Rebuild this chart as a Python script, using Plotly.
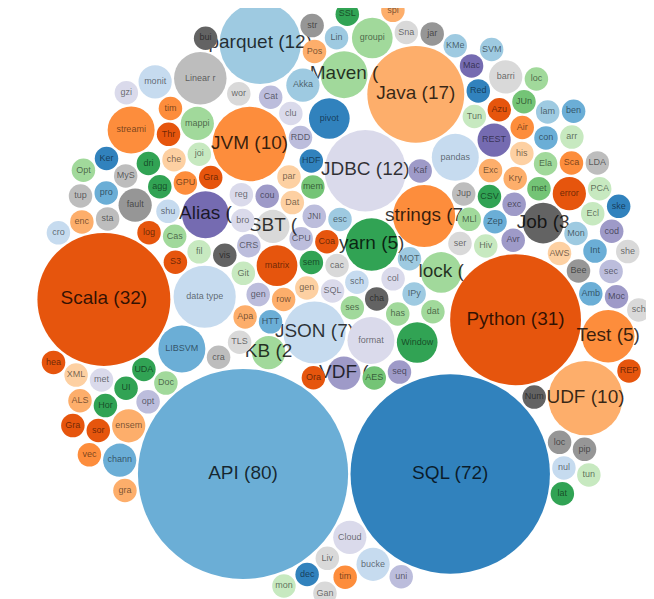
import math
import plotly.graph_objects as go

# Topics in the order they are fed to the circle-packing layout, and their counts
topics = [
 "SQLContext","session","JSON","schema","cache","char","format","generic","semantics","hash",
 "yarn","columns","rows","VDF","Coalesce","escape","matrix","IPython","HTTP","Window",
 "CPU","MQTT","SBT","Oracle","AES","lock","gen","date","KB","JNI","Apache","sequence",
 "strings","API","JDBC","SQL","Git","Dataset","TLS","Python",
 "memory","serialization","CRS","data type","visualization","crash","broadcast",
 "count","LIBSVM","filter","partition","regex","Alias","Kafka","HDFS","Hive","JVM",
 "RDD","MLlib","GraphX","pivot","Jupyter","Zeppelin","pandas","Docker","Java","S3",
 "Scala","Cassandra","Avro","CSV","Maven","Excel","NumPy","cluster","Akka","shuffle",
 "GPU","log4j","Cloud","exception","Job","AWS","join","aggregation","UDAF","fault",
 "checkpoint","Kryo","Catalyst","REST","Tungsten","optimizer","mapping","metrics","UI","parquet",
 "history","driver","worker","UDF","standalone","local","Thrift","Linear regression","Beeline","metastore",
 "ensemble","Elastic","MongoDB","grouping","MySQL","Postgres","error","Redshift","Azure","Airflow",
 "Hortonworks","Ambari","streaming","Test","Livy","bucketing","IntelliJ","Eclipse","timeout","ScalaTest",
 "JUnit","barrier","Mockito","config","channel","properties","Linux","monitoring","Mac","security",
 "Kerberos","SSL","encryption","Snappy","gzip","codec","XML","timestamp","decimal","null",
 "array","struct","tuple","Option","lambda","sort","union","sample","KMeans","ALS",
 "SVM","PCA","LDA","pipeline","vector","graph","jar","build","shell","REPL",
 "cron","monitor","Ganglia","Grafana","latency","benchmark","tuning","heap","spill","skew",
 "locality","scheduler",
]

counts_by_topic = {
 "API": 80, "SQL": 72, "Scala": 32, "Python": 31, "Java": 17, "parquet": 12, "JDBC": 12,
 "JVM": 10, "UDF": 10, "JSON": 7, "strings": 7, "Test": 5, "yarn": 5, "Alias": 4, "Maven": 4,
 "KB": 2, "lock": 3, "SBT": 2, "Job": 3, "VDF": 2,
 "data type": 7, "Linear regression": 5, "streaming": 4, "LIBSVM": 4, "format": 4, "Window": 3,
 "pivot": 3, "pandas": 4, "Akka": 2, "Cloud": 2, "fault": 2, "matrix": 3, "mapping": 2,
 "ensemble": 2, "REST": 2, "grouping": 3, "error": 2, "bucketing": 2, "barrier": 2,
 "channel": 2, "monitoring": 2,
}
counts = [counts_by_topic.get(t, 1) for t in topics]

labelled_with_count = ["API","SQL","Scala","Python","Java","parquet","JDBC","JVM","UDF","JSON",
                       "strings","Test","yarn","Alias","Maven","KB","lock","SBT","Job","VDF"]

palette = ["#3182bd","#6baed6","#9ecae1","#c6dbef","#e6550d","#fd8d3c","#fdae6b","#fdd0a2",
           "#31a354","#74c476","#a1d99b","#c7e9c0","#756bb1","#9e9ac8","#bcbddc","#dadaeb",
           "#636363","#969696","#bdbdbd","#d9d9d9"]
fixed_colors = {
 "API":"#6baed6","SQL":"#3182bd","Scala":"#e6550d","Python":"#e6550d","Java":"#fdae6b",
 "parquet":"#9ecae1","JDBC":"#dadaeb","JVM":"#fd8d3c","UDF":"#fdae6b","JSON":"#c6dbef",
 "strings":"#fd8d3c","Test":"#fd8d3c","yarn":"#31a354","Alias":"#756bb1","Maven":"#a1d99b",
 "KB":"#a1d99b","lock":"#a1d99b","SBT":"#d9d9d9","Job":"#636363","VDF":"#9e9ac8",
 "data type":"#c6dbef","Linear regression":"#bdbdbd","streaming":"#fd8d3c","LIBSVM":"#6baed6",
 "format":"#dadaeb","Window":"#31a354","pivot":"#3182bd","pandas":"#c6dbef","Akka":"#9ecae1",
 "Cloud":"#dadaeb","fault":"#969696","matrix":"#e6550d","mapping":"#a1d99b","ensemble":"#fdae6b",
 "REST":"#756bb1","grouping":"#a1d99b","error":"#e6550d","bucketing":"#c6dbef","barrier":"#d9d9d9",
 "channel":"#6baed6","monitoring":"#c6dbef",
}

def color_of(name):
    if name in fixed_colors:
        return fixed_colors[name]
    h = 0
    for ch in name:
        h = (h * 31 + ord(ch)) % 9973
    return palette[h % 20]

# ---------------- circle packing (front-chain, as in d3.packSiblings) ----------------
class Node:
    __slots__ = ("c", "next", "previous")
    def __init__(self, c):
        self.c = c; self.next = None; self.previous = None

def place(b, a, c):
    dx = b["x"] - a["x"]; dy = b["y"] - a["y"]
    d2 = dx * dx + dy * dy
    if d2:
        a2 = a["r"] + c["r"]; a2 *= a2
        b2 = b["r"] + c["r"]; b2 *= b2
        if a2 > b2:
            x = (d2 + b2 - a2) / (2 * d2)
            y = math.sqrt(max(0.0, b2 / d2 - x * x))
            c["x"] = b["x"] - x * dx - y * dy
            c["y"] = b["y"] - x * dy + y * dx
        else:
            x = (d2 + a2 - b2) / (2 * d2)
            y = math.sqrt(max(0.0, a2 / d2 - x * x))
            c["x"] = a["x"] + x * dx - y * dy
            c["y"] = a["y"] + x * dy + y * dx
    else:
        c["x"] = a["x"] + c["r"]; c["y"] = a["y"]

def intersects(a, b):
    dr = a["r"] + b["r"] - 1e-6
    dx = b["x"] - a["x"]; dy = b["y"] - a["y"]
    return dr > 0 and dr * dr > dx * dx + dy * dy

def score(node):
    a = node.c; b = node.next.c
    ab = a["r"] + b["r"]
    dx = (a["x"] * b["r"] + b["x"] * a["r"]) / ab
    dy = (a["y"] * b["r"] + b["y"] * a["r"]) / ab
    return dx * dx + dy * dy

def pack_siblings(circles):
    n = len(circles)
    a = circles[0]; a["x"] = 0.0; a["y"] = 0.0
    if n < 2: return
    b = circles[1]; a["x"] = -b["r"]; b["x"] = a["r"]; b["y"] = 0.0
    if n < 3: return
    c = circles[2]; place(b, a, c)
    a = Node(a); b = Node(b); c = Node(c)
    a.next = c.previous = b
    b.next = a.previous = c
    c.next = b.previous = a
    i = 3
    while i < n:
        cc = circles[i]
        place(a.c, b.c, cc)
        c = Node(cc)
        j = b.next; k = a.previous; sj = b.c["r"]; sk = a.c["r"]
        restart = False
        while True:
            if sj <= sk:
                if intersects(j.c, c.c):
                    b = j; a.next = b; b.previous = a
                    restart = True; break
                sj += j.c["r"]; j = j.next
            else:
                if intersects(k.c, c.c):
                    a = k; a.next = b; b.previous = a
                    restart = True; break
                sk += k.c["r"]; k = k.previous
            if j is k.next:
                break
        if restart:
            continue
        c.previous = a; c.next = b; a.next = c; b.previous = c; b = c
        aa = score(a)
        node = c
        while True:
            node = node.next
            if node is b: break
            ca = score(node)
            if ca < aa:
                a = node; aa = ca
        b = a.next
        i += 1

UNIT = 11.75   # px radius of a count-1 bubble (area proportional to count)
PAD = 1.2
radii = [UNIT * math.sqrt(v) for v in counts]
circles = [{"r": r + PAD, "x": 0.0, "y": 0.0} for r in radii]
pack_siblings(circles)

# orient the pack so the two largest bubbles sit side by side (largest on the left)
order_by_size = sorted(range(len(counts)), key=lambda i: -counts[i])
i1, i2 = order_by_size[0], order_by_size[1]
ang = math.atan2(circles[i2]["y"] - circles[i1]["y"], circles[i2]["x"] - circles[i1]["x"])
ca, sa = math.cos(-ang), math.sin(-ang)
rx = [c["x"] * ca - c["y"] * sa for c in circles]
ry = [c["x"] * sa + c["y"] * ca for c in circles]
xmin = min(x - c["r"] for x, c in zip(rx, circles)); xmax = max(x + c["r"] for x, c in zip(rx, circles))
ymin = min(y - c["r"] for y, c in zip(ry, circles)); ymax = max(y + c["r"] for y, c in zip(ry, circles))
CX, CY = 336, 290
px = [CX + x - (xmin + xmax) / 2 for x in rx]
py = [CY + y - (ymin + ymax) / 2 for y in ry]

fig = go.Figure()
for name, v, r, x, y in zip(topics, counts, radii, px, py):
    if name in labelled_with_count:
        label = f"{name} ({v})"[: int(r / 3)]
        fsize = 19; fcol = "rgba(0,0,0,0.78)"
    else:
        label = name[: int(r / 3)]
        fsize = 9; fcol = "rgba(0,0,0,0.55)"
    fig.add_trace(go.Scatter(
        x=[x], y=[y], mode="markers+text",
        marker=dict(size=2 * r, color=color_of(name), line=dict(width=0), opacity=1),
        text=[label], textposition="middle center",
        textfont=dict(family="Liberation Sans, Arial, sans-serif", size=fsize, color=fcol),
        hoverinfo="skip", showlegend=False, cliponaxis=False,
    ))

fig.update_layout(
    width=654, height=599, margin=dict(l=0, r=0, t=0, b=0),
    paper_bgcolor="white", plot_bgcolor="white",
    xaxis=dict(range=[0, 654], visible=False, fixedrange=True),
    yaxis=dict(range=[599, 0], visible=False, fixedrange=True),
    showlegend=False,
)
fig.write_html("out.html")
